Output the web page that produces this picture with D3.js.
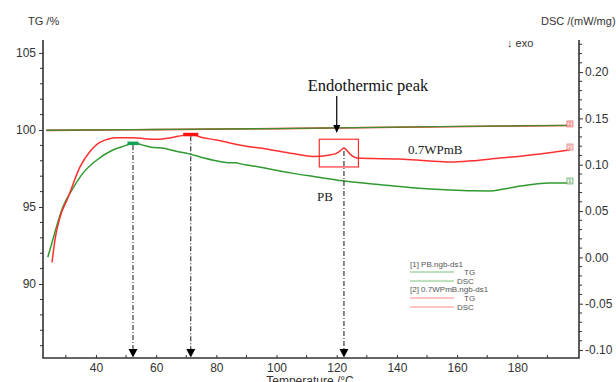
<!DOCTYPE html>
<html>
<head>
<meta charset="utf-8">
<script src="https://cdn.jsdelivr.net/npm/d3@7"></script>
<style>
  html, body { margin: 0; padding: 0; background: #fff; }
  svg { display: block; }
</style>
</head>
<body>
<svg id="chart" width="616" height="382"></svg>
<script>
// TG of PB (sample [1])
const pbTemp = [24, 25.7, 27.3, 29, 32, 35.7, 40.3, 45.6, 50, 52.3, 55, 58, 63, 67, 71, 74.6, 80, 85, 86.5, 88, 91.2, 96.8, 105, 113.4, 122, 135.3, 145, 157.6, 165, 170.9, 175, 180.9, 190.8, 197.5];
const pbTG   = [91.75, 92.9, 94.0, 95.0, 96.1, 97.2, 98.05, 98.7, 99.0, 99.15, 99.05, 98.9, 98.8, 98.6, 98.45, 98.25, 98.0, 97.87, 97.88, 97.8, 97.7, 97.5, 97.2, 96.95, 96.7, 96.43, 96.25, 96.1, 96.05, 96.04, 96.15, 96.36, 96.56, 96.56];

// TG of 0.7WPmB (sample [2])
const wpTemp = [25.4, 26.4, 28, 30.7, 34.7, 38, 41.3, 47, 52.3, 57, 60.3, 65, 69, 72, 74.6, 80, 84.5, 90, 94.5, 100, 106, 112, 117.7, 120, 121.5, 122.4, 123.5, 124.5, 126.7, 132, 141, 150, 157.6, 165, 174.2, 181, 187.5, 193, 197.5];
const wpTG   = [91.4, 92.9, 94.3, 95.6, 97.6, 98.6, 99.2, 99.5, 99.5, 99.42, 99.4, 99.5, 99.65, 99.7, 99.55, 99.35, 99.16, 98.95, 98.83, 98.65, 98.45, 98.28, 98.38, 98.5, 98.7, 98.83, 98.65, 98.42, 98.18, 98.15, 98.12, 98.0, 97.92, 98.0, 98.18, 98.3, 98.44, 98.58, 98.7];

// DSC signals (mW/mg)
const dscTemp = [23.5, 60, 100, 140, 180, 197.5];
const pbDSC   = [0.1372, 0.1380, 0.1390, 0.1405, 0.1420, 0.1425];
const wpDSC   = [0.1371, 0.1379, 0.1390, 0.1404, 0.1419, 0.1424];

// axis ticks
const tempTicks = [40, 60, 80, 100, 120, 140, 160, 180];
const tgTicks   = [90, 95, 100, 105];
const dscTicks  = [-0.10, -0.05, 0.00, 0.05, 0.10, 0.15, 0.20];

// marked temperatures (°C)
const pbPeakT = 52.3, pbPeakTG = 99.15;
const wpPeakT = 71.5, wpPeakTG = 99.72;
const endoT = 122.4, endoTG = 98.83;

const RED = "#ff2f2f", GREEN = "#2f9a2f", AXIS = "#333";

const svg = d3.select("#chart");
const x  = d3.scaleLinear().domain([22.4, 200.5]).range([43, 579]);
const yL = d3.scaleLinear().domain([85.2, 105.84]).range([358, 40]);
const yR = d3.scaleLinear().domain([-0.1086, 0.2346]).range([358, 40]);

const font = "Liberation Sans, Arial, sans-serif";

// ---- axes ----
const left = d3.axisLeft(yL).tickValues(tgTicks).tickSize(4).tickPadding(3).tickFormat(d3.format("d"));
const gl = svg.append("g").attr("transform", "translate(43,0)").call(left);
gl.select(".domain").remove();
gl.selectAll("line").attr("stroke", AXIS);
gl.selectAll("text").attr("font-size", 12).attr("fill", AXIS).attr("font-family", font);
gl.selectAll(".minor").data(d3.range(86, 106, 1).filter(v => !tgTicks.includes(v)))
  .enter().append("line").attr("x1", -3).attr("x2", 0)
  .attr("y1", d => yL(d)).attr("y2", d => yL(d)).attr("stroke", AXIS);

const right = d3.axisRight(yR).tickValues(dscTicks).tickSize(4).tickPadding(2).tickFormat(d3.format(".2f"));
const gr = svg.append("g").attr("transform", "translate(579,0)").call(right);
gr.select(".domain").remove();
gr.selectAll("line").attr("stroke", AXIS);
gr.selectAll("text").attr("font-size", 12).attr("fill", AXIS).attr("font-family", font)
  .text(d => d < 0 ? "-" + d3.format(".2f")(-d) : d3.format(".2f")(d));
gr.selectAll(".minor").data(d3.range(-10, 24, 1).map(v => v / 100).filter(v => Math.round(v * 100) % 5 !== 0))
  .enter().append("line").attr("x1", 0).attr("x2", 3)
  .attr("y1", d => yR(d)).attr("y2", d => yR(d)).attr("stroke", AXIS);

const bottom = d3.axisBottom(x).tickValues(tempTicks).tickSizeInner(-3).tickSizeOuter(0).tickPadding(5).tickFormat(d3.format("d"));
const gb = svg.append("g").attr("transform", "translate(0,358)").call(bottom);
gb.select(".domain").remove();
gb.selectAll("line").attr("stroke", AXIS);
gb.selectAll("text").attr("font-size", 12).attr("fill", AXIS).attr("font-family", font);
gb.selectAll(".minor").data([30, 50, 70, 90, 110, 130, 150, 170, 190])
  .enter().append("line").attr("x1", d => x(d)).attr("x2", d => x(d))
  .attr("y1", -3).attr("y2", 0).attr("stroke", AXIS);

// frame lines (left, bottom, right)
svg.append("path")
  .attr("d", `M43,40V358H579V40`)
  .attr("fill", "none").attr("stroke", AXIS).attr("stroke-width", 1.6);

// axis titles
svg.append("text").attr("x", 28).attr("y", 25).attr("font-size", 11).attr("font-family", font).attr("fill", AXIS).text("TG /%");
svg.append("text").attr("x", 541).attr("y", 25).attr("font-size", 11).attr("font-family", font).attr("fill", AXIS).text("DSC /(mW/mg)");
svg.append("text").attr("x", 507).attr("y", 47).attr("font-size", 11).attr("font-family", font).attr("fill", AXIS).text("↓ exo");
svg.append("text").attr("x", 310).attr("y", 385).attr("text-anchor", "middle").attr("font-size", 12).attr("font-family", font).attr("fill", AXIS).text("Temperature /°C");

// ---- curves ----
const lineL = d3.line().x(d => x(d[0])).y(d => yL(d[1])).curve(d3.curveMonotoneX);
const lineR = d3.line().x(d => x(d[0])).y(d => yR(d[1])).curve(d3.curveMonotoneX);

svg.append("path").datum(d3.zip(dscTemp, wpDSC)).attr("d", lineR)
  .attr("fill", "none").attr("stroke", RED).attr("stroke-width", 1.6);
svg.append("path").datum(d3.zip(dscTemp, pbDSC)).attr("d", lineR)
  .attr("fill", "none").attr("stroke", "#3f8f2f").attr("stroke-width", 1.3);

svg.append("path").datum(d3.zip(pbTemp, pbTG)).attr("d", lineL)
  .attr("fill", "none").attr("stroke", GREEN).attr("stroke-width", 1.5);
svg.append("path").datum(d3.zip(wpTemp, wpTG)).attr("d", lineL)
  .attr("fill", "none").attr("stroke", RED).attr("stroke-width", 1.5);

// end-of-curve sample tags
function tag(t, yv, color, fill, label) {
  const g = svg.append("g").attr("transform", `translate(${x(t) - 3},${yv - 3})`);
  g.append("rect").attr("width", 6).attr("height", 6).attr("fill", fill).attr("stroke", color).attr("stroke-width", 0.7);
  g.append("text").attr("x", 3).attr("y", 5).attr("text-anchor", "middle").attr("font-size", 5).attr("font-family", font).attr("fill", color).text(label);
}
tag(197.5, yR(wpDSC[wpDSC.length - 1]) - 1.5, "#e06060", "#ffd0d0", "2");
tag(197.5, yL(wpTG[wpTG.length - 1]) - 3, "#e07070", "#ffdede", "2");
tag(197.5, yL(pbTG[pbTG.length - 1]) - 2, "#60a060", "#dff0df", "1");

// maxima markers
svg.append("rect").attr("x", x(pbPeakT) - 5.5).attr("y", yL(pbPeakTG) - 1.5).attr("width", 11).attr("height", 3.5).attr("fill", "#12a052");
svg.append("rect").attr("x", x(wpPeakT) - 7.5).attr("y", yL(wpPeakTG) - 1.5).attr("width", 15).attr("height", 3.5).attr("fill", "#ff1010");

// dash-dot drop lines with arrowheads
function drop(t, y0) {
  const px = x(t);
  svg.append("line").attr("x1", px).attr("x2", px).attr("y1", y0).attr("y2", 350)
    .attr("stroke", "#111").attr("stroke-width", 1).attr("stroke-dasharray", "5,2,1,2");
  svg.append("path").attr("d", `M${px - 4.5},349L${px + 4.5},349L${px},357.5Z`).attr("fill", "#000");
}
drop(pbPeakT, yL(pbPeakTG) + 2);
drop(wpPeakT, yL(wpPeakTG) + 2);
drop(endoT, yL(endoTG) + 3);

// endothermic peak box and callout
svg.append("rect").attr("x", x(114.2)).attr("y", yL(99.4)).attr("width", x(127.2) - x(114.2)).attr("height", yL(97.6) - yL(99.4))
  .attr("fill", "none").attr("stroke", "#ff2020").attr("stroke-width", 1.1);
svg.append("line").attr("x1", x(120)).attr("x2", x(120)).attr("y1", 96).attr("y2", 126)
  .attr("stroke", "#000").attr("stroke-width", 1.2);
svg.append("path").attr("d", `M${x(120) - 3.5},125L${x(120) + 3.5},125L${x(120)},133Z`).attr("fill", "#000");

const serif = "Liberation Serif, Times New Roman, serif";
svg.append("text").attr("x", 368).attr("y", 91).attr("text-anchor", "middle").attr("font-size", 16.5).attr("font-family", serif).attr("fill", "#111").text("Endothermic peak");
svg.append("text").attr("x", 408).attr("y", 154).attr("font-size", 13).attr("font-family", serif).attr("fill", "#222").text("0.7WPmB");
svg.append("text").attr("x", 317).attr("y", 201).attr("font-size", 13).attr("font-family", serif).attr("fill", "#222").text("PB");

// legend
const lg = svg.append("g").attr("font-family", font).attr("font-size", 8).attr("fill", "#555");
const legendRows = [
  { type: "head", text: "[1] PB.ngb-ds1", y: 267 },
  { type: "line", text: "TG", color: "#7cc47c", y: 272, tx: 464 },
  { type: "line", text: "DSC", color: "#7cc47c", y: 281, tx: 457 },
  { type: "head", text: "[2] 0.7WPmB.ngb-ds1", y: 292 },
  { type: "line", text: "TG", color: "#ff8a8a", y: 298, tx: 464 },
  { type: "line", text: "DSC", color: "#ff8a8a", y: 307, tx: 457 }
];
legendRows.forEach(r => {
  if (r.type === "head") {
    lg.append("text").attr("x", 410).attr("y", r.y).text(r.text);
  } else {
    lg.append("line").attr("x1", 410).attr("x2", 454).attr("y1", r.y).attr("y2", r.y).attr("stroke", r.color).attr("stroke-width", 1.2);
    lg.append("text").attr("x", r.tx).attr("y", r.y + 3).text(r.text);
  }
});
</script>
</body>
</html>
